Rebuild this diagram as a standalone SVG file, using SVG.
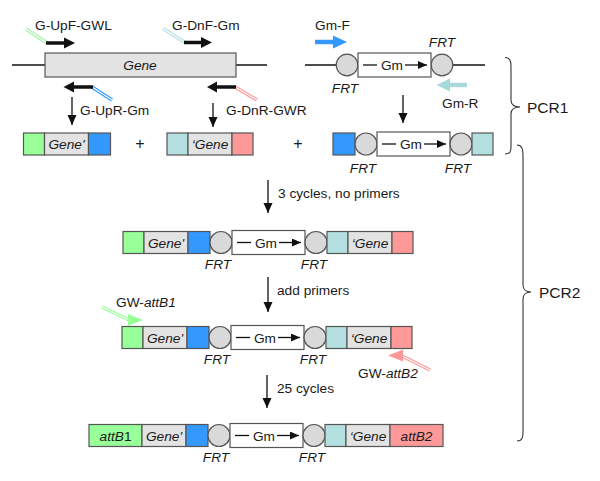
<svg xmlns="http://www.w3.org/2000/svg" width="600" height="481" viewBox="0 0 600 481">
<defs>
<style>
text{font-family:"Liberation Sans",Arial,sans-serif;font-size:13.7px;fill:#1a1a1a}
.it{font-style:italic}
.mid{text-anchor:middle}
.bx{stroke:#555;stroke-width:1.2}
.gr{fill:#e3e3e3}
.g{fill:#99ff99}
.b{fill:#3399ff}
.t{fill:#b3dfe0}
.p{fill:#ff9999}
.frt{fill:#d9d9d9;stroke:#555;stroke-width:1.2}
.ln{stroke:#111;stroke-width:1.4;fill:none}
.thin{stroke:#111;stroke-width:1.3;fill:none}
.thick{stroke:#111;stroke-width:3.5;fill:none}
.brace{stroke:#333;stroke-width:1.1;fill:none}
.wh{stroke:#fff;stroke-width:1.1;fill:none}
</style>
<marker id="ah" markerUnits="userSpaceOnUse" markerWidth="10" markerHeight="10" refX="10" refY="4.5" orient="auto">
<path d="M0,0 L10,4.5 L0,9 z" fill="#111"/>
</marker>
<marker id="ahs" markerUnits="userSpaceOnUse" markerWidth="9" markerHeight="8" refX="9" refY="4" orient="auto">
<path d="M0,0 L9,4 L0,8 z" fill="#111"/>
</marker>
<g id="gmbox">
<rect x="0" y="-12" width="73" height="24" fill="#fff" class="bx"/>
<line x1="5" y1="0" x2="19" y2="0" class="thin"/>
<text x="34" y="5" class="mid">Gm</text>
<line x1="47" y1="0" x2="69" y2="0" class="thin" marker-end="url(#ahs)"/>
</g>
</defs>
<rect width="600" height="481" fill="#fff"/>

<!-- Top: gene template with primers -->
<g id="gene-template">
<line x1="12" y1="65" x2="267" y2="65" class="ln"/>
<rect x="45" y="53" width="191" height="24" class="gr bx"/>
<text x="140" y="70" class="it mid">Gene</text>
</g>
<g id="primer-UpF">
<line x1="26" y1="29" x2="47" y2="43" stroke="#a8f0a8" stroke-width="3.4"/>
<line x1="26" y1="29" x2="47" y2="43" class="wh"/>
<line x1="46" y1="43" x2="65" y2="43" class="thick"/>
<path d="M64,37.5 L75,43 L64,48.5 z" fill="#111"/>
<text x="35" y="30">G-UpF-GWL</text>
</g>
<g id="primer-DnF">
<line x1="163" y1="28.5" x2="185" y2="42.5" stroke="#b8e0e0" stroke-width="3.4"/>
<line x1="163" y1="28.5" x2="185" y2="42.5" class="wh"/>
<line x1="184" y1="42.5" x2="202" y2="42.5" class="thick"/>
<path d="M201,37 L212,42.5 L201,48 z" fill="#111"/>
<text x="172" y="30">G-DnF-Gm</text>
</g>
<g id="primer-UpR">
<line x1="92" y1="87" x2="112" y2="100" stroke="#3399ff" stroke-width="3.4"/>
<line x1="92" y1="87" x2="112" y2="100" class="wh"/>
<line x1="73" y1="87" x2="93" y2="87" class="thick"/>
<path d="M74,81.5 L63.5,87 L74,92.5 z" fill="#111"/>
<text x="80" y="115">G-UpR-Gm</text>
</g>
<g id="primer-DnR">
<line x1="235" y1="87" x2="257" y2="100" stroke="#ff9999" stroke-width="3.4"/>
<line x1="235" y1="87" x2="257" y2="100" class="wh"/>
<line x1="216" y1="87" x2="236" y2="87" class="thick"/>
<path d="M217,81.5 L207,87 L217,92.5 z" fill="#111"/>
<text x="226" y="115">G-DnR-GWR</text>
</g>

<!-- Top right: Gm cassette template -->
<g id="gm-template">
<line x1="305" y1="65" x2="485" y2="65" class="ln"/>
<circle cx="347" cy="65" r="10.8" class="frt"/>
<circle cx="442" cy="65" r="10.8" class="frt"/>
<use href="#gmbox" x="358" y="65"/>
<text x="442" y="47" class="it mid">FRT</text>
<text x="345" y="93" class="it mid">FRT</text>
</g>
<g id="primer-GmF">
<line x1="315" y1="42" x2="334" y2="42" stroke="#3399ff" stroke-width="4.5"/>
<path d="M333,35.5 L347,42 L333,48.5 z" fill="#3399ff"/>
<text x="315" y="30">Gm-F</text>
</g>
<g id="primer-GmR">
<line x1="449" y1="85" x2="467" y2="85" stroke="#a8d8dc" stroke-width="4.5"/>
<path d="M450,78.5 L436.5,85 L450,91.5 z" fill="#a8d8dc"/>
<text x="442" y="108">Gm-R</text>
</g>

<!-- Row 2: PCR1 products -->
<g id="product-up" transform="translate(44.5,144)">
<rect x="-21" y="-11" width="21" height="22" class="g bx"/>
<rect x="0" y="-11" width="44" height="22" class="gr bx"/>
<rect x="44" y="-11" width="22" height="22" class="b bx"/>
<text x="22" y="5" class="it mid">Gene'</text>
</g>
<text x="140" y="149" class="mid" style="font-size:16px">+</text>
<g id="product-dn" transform="translate(167,144)">
<rect x="0" y="-11" width="21" height="22" class="t bx"/>
<rect x="21" y="-11" width="44" height="22" class="gr bx"/>
<rect x="65" y="-11" width="21" height="22" class="p bx"/>
<text x="43" y="5" class="it mid">‘Gene</text>
</g>
<text x="298" y="149" class="mid" style="font-size:16px">+</text>
<g id="product-gm" transform="translate(289,144)">
<rect x="44" y="-11" width="22" height="22" class="b bx"/>
<circle cx="77" cy="0" r="11" class="frt"/>
<use href="#gmbox" x="88" y="0"/>
<circle cx="172" cy="0" r="11" class="frt"/>
<rect x="183" y="-11" width="21" height="22" class="t bx"/>
<text x="74" y="29" class="it mid">FRT</text>
<text x="169" y="29" class="it mid">FRT</text>
</g>

<!-- Row 3 -->
<g id="fusion-1" transform="translate(144,242.5)">
<rect x="-21" y="-11" width="21" height="22" class="g bx"/>
<rect x="0" y="-11" width="44" height="22" class="gr bx"/>
<rect x="44" y="-11" width="22" height="22" class="b bx"/>
<circle cx="77" cy="0" r="11" class="frt"/>
<use href="#gmbox" x="88" y="0"/>
<circle cx="172" cy="0" r="11" class="frt"/>
<rect x="183" y="-11" width="21" height="22" class="t bx"/>
<rect x="204" y="-11" width="44" height="22" class="gr bx"/>
<rect x="248" y="-11" width="21" height="22" class="p bx"/>
<text x="22" y="5" class="it mid">Gene'</text>
<text x="226" y="5" class="it mid">‘Gene</text>
<text x="74" y="26" class="it mid">FRT</text>
<text x="170" y="26" class="it mid">FRT</text>
</g>

<!-- Row 4 -->
<g id="fusion-2" transform="translate(143,337.5)">
<rect x="-21" y="-11" width="21" height="22" class="g bx"/>
<rect x="0" y="-11" width="44" height="22" class="gr bx"/>
<rect x="44" y="-11" width="22" height="22" class="b bx"/>
<circle cx="77" cy="0" r="11" class="frt"/>
<use href="#gmbox" x="88" y="0"/>
<circle cx="172" cy="0" r="11" class="frt"/>
<rect x="183" y="-11" width="21" height="22" class="t bx"/>
<rect x="204" y="-11" width="44" height="22" class="gr bx"/>
<rect x="248" y="-11" width="21" height="22" class="p bx"/>
<text x="22" y="5" class="it mid">Gene'</text>
<text x="226" y="5" class="it mid">‘Gene</text>
<text x="74" y="26.5" class="it mid">FRT</text>
<text x="170" y="26.5" class="it mid">FRT</text>
</g>
<g id="primer-attB1">
<line x1="102" y1="307" x2="129" y2="320" stroke="#99ff99" stroke-width="3.6"/>
<line x1="102" y1="307" x2="129" y2="320" class="wh"/>
<path d="M128,314 L143,320 L128,326 z" fill="#99ff99"/>
<text x="116" y="307">GW-<tspan class="it">attB1</tspan></text>
</g>
<g id="primer-attB2">
<line x1="402" y1="356" x2="430" y2="370" stroke="#ff9999" stroke-width="3.6"/>
<line x1="402" y1="356" x2="430" y2="370" class="wh"/>
<path d="M403,349.5 L388,355.5 L403,361.5 z" fill="#ff9999"/>
<text x="358" y="378">GW-<tspan class="it">attB2</tspan></text>
</g>

<!-- Row 5 -->
<g id="final-product" transform="translate(142,435.5)">
<rect x="-53" y="-11" width="53" height="22" class="g bx"/>
<rect x="0" y="-11" width="44" height="22" class="gr bx"/>
<rect x="44" y="-11" width="22" height="22" class="b bx"/>
<circle cx="77" cy="0" r="11" class="frt"/>
<use href="#gmbox" x="88" y="0"/>
<circle cx="172" cy="0" r="11" class="frt"/>
<rect x="183" y="-11" width="21" height="22" class="t bx"/>
<rect x="204" y="-11" width="44" height="22" class="gr bx"/>
<rect x="248" y="-11" width="53" height="22" class="p bx"/>
<text x="-26.5" y="5" class="mid"><tspan class="it">attB</tspan>1</text>
<text x="22" y="5" class="it mid">Gene'</text>
<text x="226" y="5" class="it mid">‘Gene</text>
<text x="274.5" y="5" class="it mid">attB2</text>
<text x="74" y="26.5" class="it mid">FRT</text>
<text x="170" y="26.5" class="it mid">FRT</text>
</g>

<!-- Connectors -->
<g id="connectors">
<line x1="72" y1="97" x2="72" y2="125" class="thin" marker-end="url(#ah)"/>
<line x1="213" y1="103" x2="213" y2="127" class="thin" marker-end="url(#ah)"/>
<line x1="403" y1="95" x2="403" y2="123" class="thin" marker-end="url(#ah)"/>
<line x1="268" y1="180" x2="268" y2="213" class="thin" marker-end="url(#ah)"/>
<line x1="268" y1="277" x2="268" y2="312" class="thin" marker-end="url(#ah)"/>
<line x1="267" y1="375" x2="267" y2="408" class="thin" marker-end="url(#ah)"/>
</g>
<text x="278" y="198">3 cycles, no primers</text>
<text x="277" y="295">add primers</text>
<text x="277" y="393">25 cycles</text>

<!-- Braces -->
<g id="pcr1">
<path d="M505,57.5 C510,57.5 511,61 511,67 L511,100 C511,104 514,107 520,107 C514,107 511,110 511,114 L511,147 C511,152 510,154 505,154" class="brace"/>
<text x="527" y="113" style="font-size:15.5px">PCR1</text>
</g>
<g id="pcr2">
<path d="M517,145 C522,145 523,149 523,156 L523,285 C523,289 526,292 531,292 C526,292 523,295 523,299 L523,432 C523,438 522,441 517,441" class="brace"/>
<text x="539" y="298" style="font-size:15.5px">PCR2</text>
</g>
</svg>
